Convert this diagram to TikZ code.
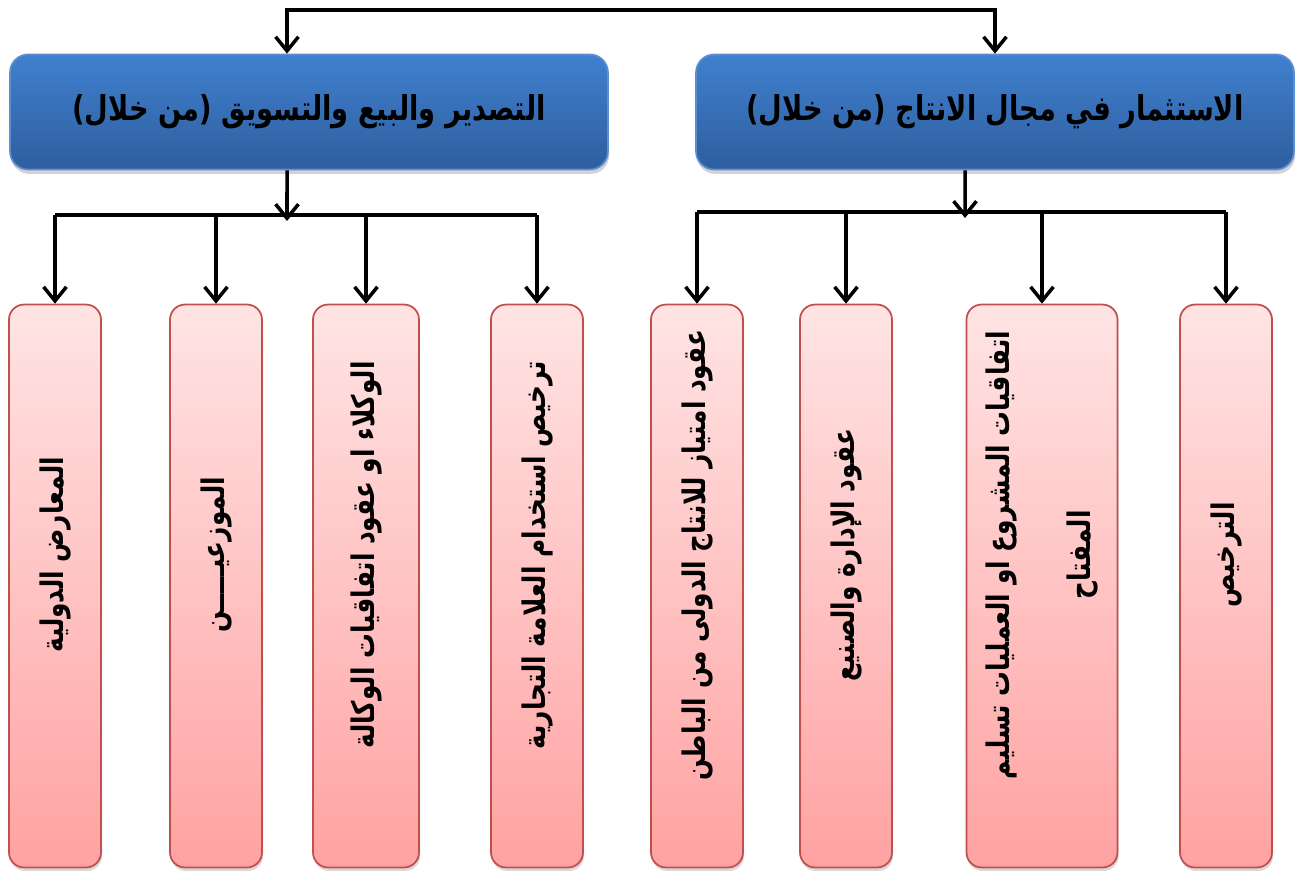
\documentclass[tikz,border=0pt]{standalone}
\usepackage{fontspec}
\usepackage{graphicx}
\usepackage{tikz}
\usetikzlibrary{arrows.meta, shadows, positioning}
\TeXXeTstate=1
\newfontfamily\arabicfont[Script=Arabic]{DejaVu Sans}
\newcommand{\artxt}[1]{\scalebox{0.94}[1.18]{\arabicfont\bfseries\beginR #1\endR}}

\definecolor{bluetop}{RGB}{64,128,206}
\definecolor{bluebot}{RGB}{46,94,158}
\definecolor{blueline}{RGB}{92,142,210}
\definecolor{pinktop}{RGB}{255,228,228}
\definecolor{pinkbot}{RGB}{255,162,162}
\definecolor{pinkline}{RGB}{192,80,77}

\tikzset{
  headbox/.style={draw=blueline, line width=1pt, rounded corners=0.36cm,
    top color=bluetop, bottom color=bluebot,
    drop shadow={shadow xshift=0.6pt, shadow yshift=-2.5pt, opacity=0.35},
    minimum width=11.96cm, minimum height=2.3cm, font=\fontsize{16.5}{20}\selectfont},
  itembox/.style={draw=pinkline, line width=1pt, rounded corners=0.3cm,
    top color=pinktop, bottom color=pinkbot,
    drop shadow={shadow xshift=0.6pt, shadow yshift=-2pt, opacity=0.3},
    minimum width=1.84cm, minimum height=11.26cm},
  itemtext/.style={rotate=90, align=center, font=\fontsize{15}{46}\selectfont},
  conn/.style={line width=2pt, black},
  arr/.style={conn, -{Straight Barb[length=8pt, width=13pt, line width=2pt]}}
}

\begin{document}
\begin{tikzpicture}[x=0.02cm, y=-0.02cm]
  \useasboundingbox (0,0) rectangle (1304,873);

  % top level
  \node[headbox] (lt) at (309,112) {\artxt{التصدير والبيع والتسويق (من خلال)}};
  \node[headbox] (rt) at (995,112) {\artxt{الاستثمار في مجال الانتاج (من خلال)}};

  % items
  \node[itembox] (b1) at (55,586) {};
  \node[itembox] (b2) at (216,586) {};
  \node[itembox, minimum width=2.12cm] (b3) at (366,586) {};
  \node[itembox] (b4) at (537,586) {};
  \node[itembox] (b5) at (697,586) {};
  \node[itembox] (b6) at (846,586) {};
  \node[itembox, minimum width=3.02cm] (b7) at (1042,586) {};
  \node[itembox] (b8) at (1226,586) {};

  \node[itemtext] (t1) at ([yshift=0.62cm]b1.center) {\artxt{المعارض الدولية}};
  \node[itemtext] (t2) at ([yshift=0.62cm]b2.center) {\artxt{الموزعيـــــن}};
  \node[itemtext] (t3) at ([yshift=0.62cm]b3.center) {\artxt{الوكلاء  او  عقود اتفاقيات الوكالة}};
  \node[itemtext] (t4) at ([yshift=0.62cm]b4.center) {\artxt{ترخيص استخدام العلامة التجارية}};
  \node[itemtext] (t5) at ([yshift=0.62cm]b5.center) {\artxt{عقود امتياز للانتاج الدولى من الباطن}};
  \node[itemtext] (t6) at ([yshift=0.62cm]b6.center) {\artxt{عقود الإدارة والصنيع}};
  \node[itemtext] (t7) at ([yshift=0.62cm]b7.center) {\artxt{اتفاقيات المشروع او العمليات تسليم}\\\artxt{المفتاح}};
  \node[itemtext] (t8) at ([yshift=0.62cm]b8.center) {\artxt{الترخيص}};

  % connectors
  \coordinate (top) at (641,10);
  \coordinate (lbus) at (287,215);
  \coordinate (rbus) at (965,212);

  \draw[arr, {Straight Barb[length=8pt, width=13pt, line width=2pt]}-{Straight Barb[length=8pt, width=13pt, line width=2pt]}]
    ([xshift=-0.44cm]lt.north) |- (top) -| (rt.north);

  \draw[arr] ([xshift=-0.44cm]lt.south) -- ([yshift=-0.12cm]lbus);
  \draw[arr] ([xshift=-0.6cm]rt.south) -- ([yshift=-0.12cm]rbus);

  \draw[conn] (b1.north |- lbus) -- (b4.north |- lbus);
  \draw[conn] (b5.north |- rbus) -- (b8.north |- rbus);

  \foreach \b in {b1,b2,b3,b4} \draw[arr] (\b.north |- lbus) -- (\b.north);
  \foreach \b in {b5,b6,b7,b8} \draw[arr] (\b.north |- rbus) -- (\b.north);
\end{tikzpicture}
\end{document}
